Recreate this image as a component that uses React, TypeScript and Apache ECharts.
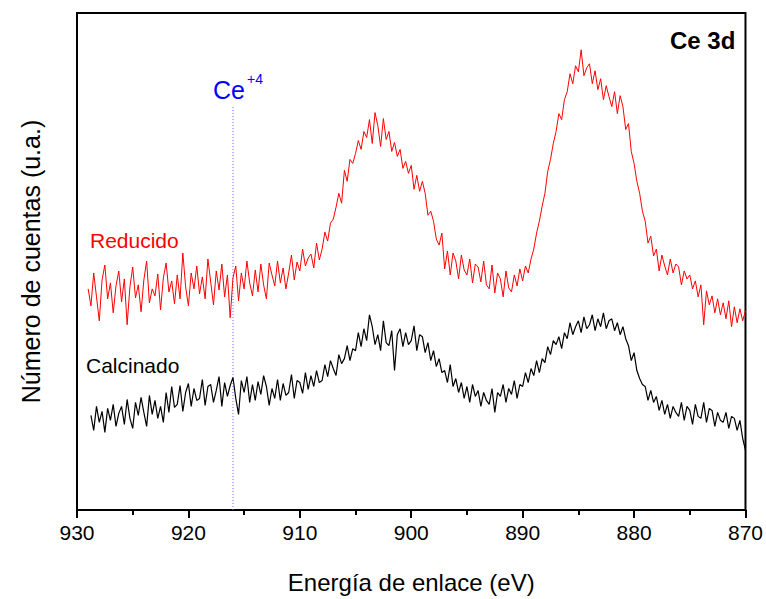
import React, { useEffect, useRef } from "react";
import * as echarts from "echarts";

// Binding energy grid (eV), spectra recorded from high to low energy
const reducidoStart = 929;
const calcinadoStart = 928.75;
const energyStep = 0.25;

// Counts (arbitrary units, offset stacked)
const reducidoCounts = [
  222, 205, 238, 214, 190, 231, 246, 212, 228, 198, 225, 240, 209, 232, 186, 224,
  244, 213, 226, 199, 231, 250, 208, 222, 215, 237, 201, 233, 248, 219, 230, 207,
  236, 212, 258, 224, 205, 238, 222, 245, 217, 234, 212, 252, 229, 206, 240, 221,
  247, 214, 236, 193, 233, 245, 210, 238, 222, 250, 228, 215, 241, 219, 247, 226,
  212, 248, 236, 225, 250, 228, 243, 222, 238, 256, 231, 249, 240, 262, 245, 253,
  257, 243, 268, 251, 262, 279, 270, 288, 292, 304, 318, 308, 341, 330, 352, 348,
  358, 371, 362, 380, 374, 392, 368, 399, 386, 365, 393, 372, 380, 360, 369, 355,
  362, 343, 350, 338, 346, 322, 336, 320, 330, 318, 296, 300, 290, 272, 266, 278,
  242, 260, 236, 258, 250, 232, 256, 241, 236, 252, 228, 247, 244, 229, 250, 226,
  222, 246, 218, 238, 232, 214, 240, 223, 219, 236, 225, 242, 230, 245, 238, 252,
  262, 278, 290, 305, 318, 340, 352, 368, 380, 398, 392, 412, 420, 438, 428, 446,
  440, 462, 436, 444, 448, 428, 441, 422, 433, 412, 426, 415, 405, 420, 398, 416,
  405, 382, 388, 360, 348, 330, 318, 300, 290, 268, 275, 255, 262, 240, 256, 245,
  236, 252, 238, 247, 244, 226, 240, 232, 236, 222, 230, 214, 226, 186, 220, 206,
  215, 198, 212, 196, 208, 192, 210, 184, 204, 188, 202, 190, 200,
];

const calcinadoCounts = [
  95, 80, 104,
  88, 99, 78, 102, 90, 106, 84, 97, 104, 86, 111, 92, 82, 108, 95, 113,
  98, 84, 115, 96, 110, 92, 104, 88, 118, 98, 124, 103, 106, 125, 99, 118,
  127, 104, 122, 110, 112, 131, 105, 124, 126, 108, 120, 134, 104, 128, 114, 125,
  133, 112, 96, 130, 118, 134, 108, 126, 110, 129, 116, 135, 124, 105, 122, 112,
  131, 110, 127, 115, 118, 136, 112, 130, 128, 117, 138, 121, 135, 124, 140, 128,
  130, 146, 134, 150, 142, 135, 156, 147, 152, 165, 150, 162, 160, 178, 164, 182,
  170, 196, 184, 166, 176, 160, 190, 168, 165, 180, 140, 176, 182, 164, 178, 166,
  170, 185, 160, 176, 174, 158, 168, 150, 160, 144, 152, 138, 140, 128, 146, 124,
  132, 118, 128, 112, 124, 108, 126, 114, 120, 104, 118, 110, 106, 122, 98, 118,
  114, 126, 108, 122, 116, 130, 112, 126, 124, 138, 128, 142, 135, 150, 138, 152,
  148, 164, 156, 170, 166, 174, 162, 178, 172, 188, 176, 184, 190, 178, 194, 182,
  186, 196, 180, 192, 184, 198, 182, 190, 192, 180, 188, 176, 184, 172, 165, 150,
  158, 140, 132, 126, 124, 110, 120, 108, 114, 100, 110, 96, 106, 92, 104, 98,
  94, 108, 90, 104, 100, 86, 106, 94, 92, 108, 88, 102, 100, 84, 98, 90,
  88, 98, 82, 94, 92, 80, 90, 72, 60,
];

const xTicks = { min: 870, max: 930, interval: 10 };
const ce4Energy = 916;
const ce4LineTop = 405;

const toPairs = (start: number, vals: number[]) =>
  vals.map((v, i) => [start - i * energyStep, v]);

export default function App() {
  const ref = useRef<HTMLDivElement>(null);
  useEffect(() => {
    if (!ref.current) return;
    const chart = echarts.init(ref.current, undefined, { renderer: "svg" });
    const font = "'Liberation Sans', Arial, Helvetica, sans-serif";
    chart.setOption({
      animation: false,
      backgroundColor: "#ffffff",
      textStyle: { fontFamily: font },
      grid: {
        left: 77,
        right: 20,
        top: 13,
        bottom: 87,
        show: true,
        borderColor: "#000",
        borderWidth: 2,
        backgroundColor: "transparent",
      },
      xAxis: {
        type: "value",
        min: xTicks.min,
        max: xTicks.max,
        interval: xTicks.interval,
        inverse: true,
        name: "Energía de enlace (eV)",
        nameLocation: "middle",
        nameGap: 60,
        nameTextStyle: { fontSize: 24, color: "#000", fontFamily: font },
        axisLine: { show: true, onZero: false, lineStyle: { color: "#000", width: 2 } },
        axisTick: { show: true, inside: false, length: 8, lineStyle: { color: "#000", width: 2 } },
        minorTick: { show: true, splitNumber: 2, length: 5, lineStyle: { color: "#000", width: 2 } },
        splitLine: { show: false },
        axisLabel: { fontSize: 21, color: "#000", margin: 12, fontFamily: font },
      },
      yAxis: {
        type: "value",
        min: 0,
        max: 499,
        name: "Número de cuentas (u.a.)",
        nameLocation: "middle",
        nameRotate: 90,
        nameGap: 34,
        nameTextStyle: { fontSize: 25, color: "#000", fontFamily: font },
        axisLine: { show: true, lineStyle: { color: "#000", width: 2 } },
        axisTick: { show: false },
        axisLabel: { show: false },
        splitLine: { show: false },
      },
      series: [
        {
          name: "Ce+4",
          type: "line",
          data: [
            [ce4Energy, 0],
            [ce4Energy, ce4LineTop],
          ],
          showSymbol: false,
          silent: true,
          lineStyle: { color: "#6a6aff", type: [1, 2], width: 1 },
          z: 1,
        },
        {
          name: "Reducido",
          type: "line",
          data: toPairs(reducidoStart, reducidoCounts),
          showSymbol: false,
          lineStyle: { color: "#ff0000", width: 1 },
          z: 2,
        },
        {
          name: "Calcinado",
          type: "line",
          data: toPairs(calcinadoStart, calcinadoCounts),
          showSymbol: false,
          lineStyle: { color: "#000000", width: 1.2 },
          z: 2,
        },
      ],
      graphic: [
        {
          type: "text",
          left: 670,
          top: 28,
          style: { text: "Ce 3d", fontSize: 24, fontWeight: "bold", fill: "#000", fontFamily: font },
        },
        {
          type: "text",
          left: 213,
          top: 77,
          style: { text: "Ce", fontSize: 25, fill: "#0000ff", fontFamily: font },
        },
        {
          type: "text",
          left: 247,
          top: 72,
          style: { text: "+4", fontSize: 14, fill: "#0000ff", fontFamily: font },
        },
        {
          type: "text",
          left: 90,
          top: 230,
          style: { text: "Reducido", fontSize: 21, fill: "#ff0000", fontFamily: font },
        },
        {
          type: "text",
          left: 86,
          top: 355,
          style: { text: "Calcinado", fontSize: 21, fill: "#000", fontFamily: font },
        },
      ],
    });
    return () => chart.dispose();
  }, []);
  return (
    <div
      ref={ref}
      style={{ position: "fixed", left: 0, top: 0, width: 766, height: 599, background: "#fff" }}
    />
  );
}
